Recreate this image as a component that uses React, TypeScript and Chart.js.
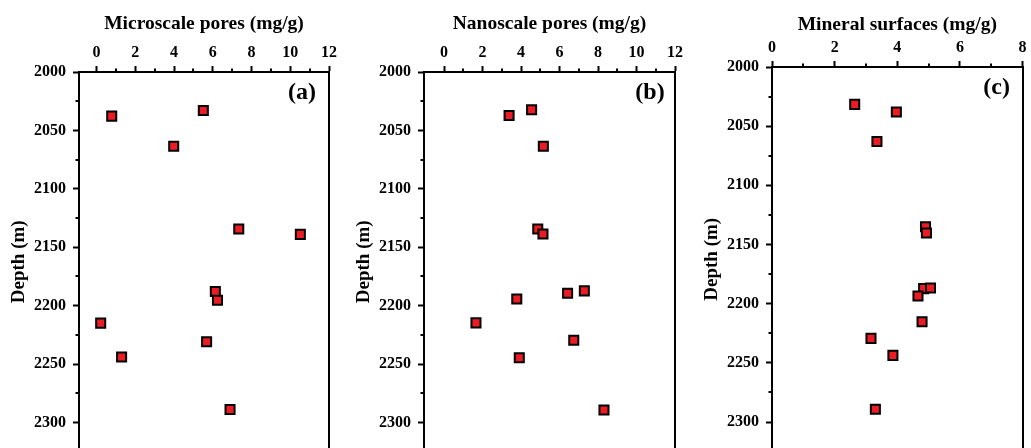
import React, { useEffect, useRef } from 'react';
import { Chart, registerables } from 'chart.js';

Chart.register(...registerables);

// ---- Data ----
const microPores = [0.78, 5.51, 3.98, 7.34, 10.52, 6.13, 6.24, 0.21, 1.29, 5.68, 6.89];
const microDepth = [2037.8, 2032.9, 2063.5, 2134.4, 2139.0, 2188.0, 2195.5, 2215.0, 2244.0, 2231.0, 2289.0];

const nanoPores = [3.38, 4.55, 5.16, 4.87, 5.14, 6.42, 7.29, 3.78, 1.66, 3.91, 6.74, 8.31];
const nanoDepth = [2037.2, 2032.3, 2063.5, 2134.4, 2138.7, 2189.4, 2187.4, 2194.3, 2214.8, 2244.6, 2229.7, 2289.3];

const mineralSurf = [2.64, 3.97, 3.35, 4.9, 4.93, 4.84, 5.06, 4.66, 4.79, 3.16, 3.86, 3.3];
const mineralDepth = [2031.6, 2038.1, 2063.0, 2135.0, 2140.3, 2187.3, 2186.7, 2193.5, 2215.3, 2229.3, 2243.7, 2289.2];

const xTicksPores = [0, 2, 4, 6, 8, 10, 12];
const xMinorPores = [1, 3, 5, 7, 9, 11];
const xTicksMineral = [0, 2, 4, 6, 8];
const xMinorMineral = [1, 3, 5, 7];
const depthTicks = [2000, 2050, 2100, 2150, 2200, 2250, 2300];
const depthMinor = [2025, 2075, 2125, 2175, 2225, 2275, 2325];

const FONT = '"Liberation Serif", "Times New Roman", serif';
const RED = '#EC1C24';

type Panel = {
  left: number;
  width: number;
  axisTop: number;
  yWidth: number;
  padRight: number;
  xMin: number;
  xMax: number;
  xTicks: number[];
  xMinor: number[];
  xs: number[];
  ys: number[];
  title: string;
  titlePad: number;
  label: string;
  labelDx: number;
  labelDy: number;
};

const panels: Panel[] = [
  {
    left: 0, width: 341, axisTop: 72, yWidth: 79, padRight: 12,
    xMin: -0.91, xMax: 12, xTicks: xTicksPores, xMinor: xMinorPores,
    xs: microPores, ys: microDepth, title: 'Microscale pores (mg/g)', titlePad: 12,
    label: '(a)', labelDx: 27, labelDy: 21,
  },
  {
    left: 345, width: 342, axisTop: 72, yWidth: 79, padRight: 12,
    xMin: -1.04, xMax: 12, xTicks: xTicksPores, xMinor: xMinorPores,
    xs: nanoPores, ys: nanoDepth, title: 'Nanoscale pores (mg/g)', titlePad: 12,
    label: '(b)', labelDx: 25, labelDy: 21,
  },
  {
    left: 693, width: 338, axisTop: 67, yWidth: 79, padRight: 6,
    xMin: 0, xMax: 8, xTicks: xTicksMineral, xMinor: xMinorMineral,
    xs: mineralSurf, ys: mineralDepth, title: 'Mineral surfaces (mg/g)', titlePad: 13,
    label: '(c)', labelDx: 26, labelDy: 21,
  },
];

const CANVAS_H = 460;

function PanelChart({ p }: { p: Panel }) {
  const ref = useRef<HTMLCanvasElement | null>(null);

  useEffect(() => {
    const canvas = ref.current;
    if (!canvas) return;

    const decor = {
      id: 'decor',
      afterDraw(chart: any) {
        const { ctx, chartArea, scales } = chart;
        ctx.save();
        ctx.strokeStyle = '#000';
        ctx.lineWidth = 2;
        // right frame line
        ctx.beginPath();
        ctx.moveTo(Math.round(chartArea.right), chartArea.top - 1);
        ctx.lineTo(Math.round(chartArea.right), chartArea.bottom + 10);
        ctx.stroke();
        // minor ticks on x (top)
        for (const v of p.xMinor) {
          const px = Math.round(scales.x.getPixelForValue(v));
          ctx.beginPath();
          ctx.moveTo(px, chartArea.top);
          ctx.lineTo(px, chartArea.top - 3.5);
          ctx.stroke();
        }
        // minor ticks on y (left)
        for (const v of depthMinor) {
          const py = Math.round(scales.y.getPixelForValue(v));
          ctx.beginPath();
          ctx.moveTo(chartArea.left, py);
          ctx.lineTo(chartArea.left - 3.5, py);
          ctx.stroke();
        }
        // panel label
        ctx.fillStyle = '#000';
        ctx.font = `bold 24px ${FONT}`;
        ctx.textAlign = 'center';
        ctx.textBaseline = 'middle';
        ctx.fillText(p.label, chartArea.right - p.labelDx, chartArea.top + p.labelDy);
        ctx.restore();
      },
    };

    const chart = new Chart(canvas, {
      type: 'scatter',
      data: {
        datasets: [
          {
            data: p.xs.map((x, i) => ({ x, y: p.ys[i] })),
            pointStyle: 'rect',
            pointRadius: 6.4,
            pointHoverRadius: 6.4,
            borderWidth: 2,
            borderColor: '#000',
            backgroundColor: RED,
            showLine: false,
          },
        ],
      },
      options: {
        animation: false,
        responsive: false,
        maintainAspectRatio: false,
        devicePixelRatio: 1,
        events: [],
        layout: { padding: { left: 0, right: p.padRight, top: 0, bottom: 0 } },
        plugins: { legend: { display: false }, tooltip: { enabled: false } },
        scales: {
          x: {
            type: 'linear',
            position: 'top',
            min: p.xMin,
            max: p.xMax,
            afterFit: (s: any) => {
              s.height = p.axisTop;
              s.paddingLeft = 0; s.paddingRight = 0; s.paddingTop = 0; s.paddingBottom = 0;
            },
            afterBuildTicks: (s: any) => { s.ticks = p.xTicks.map((v) => ({ value: v })); },
            grid: {
              display: true, drawOnChartArea: false, drawTicks: true,
              tickLength: 6, tickWidth: 2, tickColor: '#000',
            },
            border: { display: true, color: '#000', width: 2 },
            ticks: {
              color: '#000', padding: 4, autoSkip: false, maxRotation: 0,
              font: { family: FONT, weight: 'bold', size: 16 },
              callback: (v: any) => String(v),
            },
            title: {
              display: true, text: p.title, color: '#000',
              font: { family: FONT, weight: 'bold', size: 19.5 },
              padding: { top: p.titlePad, bottom: 0 },
            },
          },
          y: {
            type: 'linear',
            position: 'left',
            reverse: true,
            min: 2000,
            max: 2325,
            afterFit: (s: any) => {
              s.width = p.yWidth;
              s.paddingLeft = 0; s.paddingRight = 0; s.paddingTop = 0; s.paddingBottom = 0;
            },
            afterBuildTicks: (s: any) => { s.ticks = depthTicks.map((v) => ({ value: v })); },
            grid: {
              display: true, drawOnChartArea: false, drawTicks: true,
              tickLength: 6, tickWidth: 2, tickColor: '#000',
            },
            border: { display: true, color: '#000', width: 2 },
            ticks: {
              color: '#000', padding: 7, autoSkip: false,
              font: { family: FONT, weight: 'bold', size: 16 },
              callback: (v: any) => String(v),
            },
            title: {
              display: true, text: 'Depth (m)', color: '#000',
              font: { family: FONT, weight: 'bold', size: 19 },
              padding: { top: 8, bottom: 0 },
            },
          },
        },
      } as any,
      plugins: [decor],
    });

    return () => chart.destroy();
  }, [p]);

  return (
    <canvas
      ref={ref}
      width={p.width}
      height={CANVAS_H}
      style={{ position: 'absolute', left: p.left, top: 0, width: p.width, height: CANVAS_H }}
    />
  );
}

export default function App() {
  return (
    <div
      style={{
        position: 'fixed', left: 0, top: 0, width: 1031, height: 448,
        overflow: 'hidden', background: '#fff',
      }}
    >
      {panels.map((p) => (
        <PanelChart key={p.label} p={p} />
      ))}
    </div>
  );
}
